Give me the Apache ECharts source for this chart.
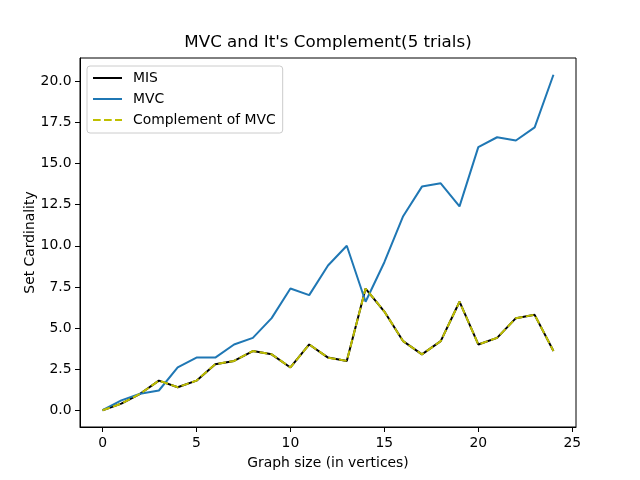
<!DOCTYPE html>
<html>
<head>
<meta charset="utf-8">
<script src="https://cdn.jsdelivr.net/npm/echarts@6/dist/echarts.min.js"></script>
<style>
html, body { margin: 0; padding: 0; background: #fff; }
#chart { width: 640px; height: 480px; }
</style>
</head>
<body>
<div id="chart"></div>
<script>
// data
var sizes = [0, 1, 2, 3, 4, 5, 6, 7, 8, 9, 10, 11, 12, 13, 14, 15, 16, 17, 18, 19, 20, 21, 22, 23, 24];
var mvc = [0, 0.6, 1.0, 1.2, 2.6, 3.2, 3.2, 4.0, 4.4, 5.6, 7.4, 7.0, 8.8, 10.0, 6.6, 9.0, 11.8, 13.6, 13.8, 12.4, 16.0, 16.6, 16.4, 17.2, 20.4];
var mis = [0, 0.4, 1.0, 1.8, 1.4, 1.8, 2.8, 3.0, 3.6, 3.4, 2.6, 4.0, 3.2, 3.0, 7.4, 6.0, 4.2, 3.4, 4.2, 6.6, 4.0, 4.4, 5.6, 5.8, 3.6];
var complementMvc = [0, 0.4, 1.0, 1.8, 1.4, 1.8, 2.8, 3.0, 3.6, 3.4, 2.6, 4.0, 3.2, 3.0, 7.4, 6.0, 4.2, 3.4, 4.2, 6.6, 4.0, 4.4, 5.6, 5.8, 3.6];
var xTicks = [0, 5, 10, 15, 20, 25];
var yTicks = [0, 2.5, 5, 7.5, 10, 12.5, 15, 17.5, 20];

function pairs(ys) {
    var out = [];
    for (var i = 0; i < sizes.length; i++) {
        out.push([sizes[i], ys[i]]);
    }
    return out;
}

var font = 'DejaVu Sans';
var fs = 13.9;
var chart = echarts.init(document.getElementById('chart'), null, {renderer: 'canvas'});
var option = {
    animation: false,
    backgroundColor: '#fff',
    textStyle: {fontFamily: font},
    graphic: [
        {
            type: 'text',
            x: 328,
            y: 43,
            style: {
                text: "MVC and It's Complement(5 trials)",
                fontFamily: font,
                fontSize: 16.7,
                fill: '#000',
                textAlign: 'center',
                textVerticalAlign: 'middle'
            }
        }
    ],
    grid: {
        left: 80,
        right: 64,
        top: 58,
        bottom: 53,
        show: true,
        borderColor: '#000',
        borderWidth: 1,
        backgroundColor: 'transparent'
    },
    legend: {
        orient: 'vertical',
        left: 87,
        top: 66,
        padding: [5, 7, 6, 5],
        itemGap: 7,
        itemWidth: 29,
        itemHeight: 14,
        itemStyle: {opacity: 0},
        backgroundColor: 'rgba(255,255,255,0.8)',
        borderColor: '#cccccc',
        borderWidth: 1,
        borderRadius: 3,
        textStyle: {fontFamily: font, fontSize: fs, color: '#000', padding: [0, 0, 0, 6]},
        data: ['MIS', 'MVC', 'Complement of MVC']
    },
    xAxis: {
        type: 'value',
        min: -1.2,
        max: 25.2,
        name: 'Graph size (in vertices)',
        nameLocation: 'middle',
        nameGap: 29,
        nameMoveOverlap: false,
        nameTextStyle: {fontFamily: font, fontSize: fs, color: '#000'},
        splitLine: {show: false},
        axisLine: {show: true, onZero: false, lineStyle: {color: '#000', width: 1}},
        axisTick: {show: true, length: 5, lineStyle: {color: '#000'}, customValues: xTicks},
        axisLabel: {color: '#000', fontSize: fs, fontFamily: font, margin: 9, customValues: xTicks}
    },
    yAxis: {
        type: 'value',
        min: -1.02,
        max: 21.42,
        name: 'Set Cardinality',
        nameLocation: 'middle',
        nameGap: 43,
        nameMoveOverlap: false,
        nameTextStyle: {fontFamily: font, fontSize: fs, color: '#000'},
        splitLine: {show: false},
        axisLine: {show: true, onZero: false, lineStyle: {color: '#000', width: 1}},
        axisTick: {show: true, length: 5, lineStyle: {color: '#000'}, customValues: yTicks},
        axisLabel: {
            color: '#000', fontSize: fs, fontFamily: font, margin: 8.5,
            customValues: yTicks,
            formatter: function (v) { return v.toFixed(1); }
        }
    },
    series: [
        {
            name: 'MIS',
            type: 'line',
            data: pairs(mis),
            symbol: 'none',
            color: '#000000',
            lineStyle: {color: '#000000', width: 2}
        },
        {
            name: 'MVC',
            type: 'line',
            data: pairs(mvc),
            symbol: 'none',
            color: '#1f77b4',
            lineStyle: {color: '#1f77b4', width: 2}
        },
        {
            name: 'Complement of MVC',
            type: 'line',
            data: pairs(complementMvc),
            symbol: 'none',
            color: '#bfbf00',
            lineStyle: {color: '#bfbf00', width: 2, type: [7.7, 3.3]}
        }
    ]
};
chart.setOption(option);
</script>
</body>
</html>
